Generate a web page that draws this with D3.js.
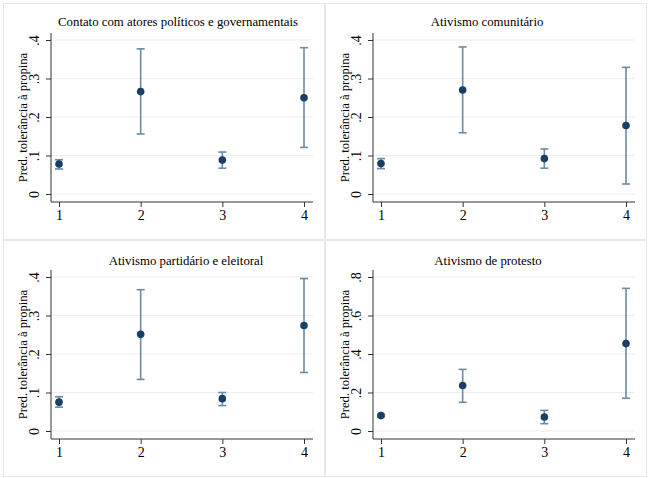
<!DOCTYPE html>
<html>
<head>
<meta charset="utf-8">
<script src="https://cdn.jsdelivr.net/npm/d3@7"></script>
<style>
  body { margin: 0; background: #fff; }
  text { font-family: "Liberation Serif", "DejaVu Serif", serif; fill: #000; }
</style>
</head>
<body>
<svg id="chart" width="650" height="478"></svg>
<script>
const categories = [1, 2, 3, 4]

const titles = [
  'Contato com atores políticos e governamentais',
  'Ativismo comunitário',
  'Ativismo partidário e eleitoral',
  'Ativismo de protesto'
]

const yLabel = 'Pred. tolerância à propina'

const estContato = [0.078, 0.266, 0.088, 0.250]
const lowContato = [0.065, 0.156, 0.067, 0.121]
const highContato = [0.089, 0.377, 0.109, 0.380]

const estComunitario = [0.079, 0.270, 0.092, 0.178]
const lowComunitario = [0.066, 0.159, 0.067, 0.026]
const highComunitario = [0.092, 0.382, 0.117, 0.329]

const estPartidario = [0.075, 0.251, 0.084, 0.274]
const lowPartidario = [0.062, 0.134, 0.066, 0.152]
const highPartidario = [0.089, 0.367, 0.100, 0.396]

const estProtesto = [0.080, 0.236, 0.073, 0.454]
const lowProtesto = [0.074, 0.149, 0.038, 0.170]
const highProtesto = [0.086, 0.320, 0.107, 0.741]

const ticksSmall = [0, 0.1, 0.2, 0.3, 0.4]
const ticksLarge = [0, 0.2, 0.4, 0.6, 0.8]

const panels = [
  { est: estContato, low: lowContato, high: highContato, ticks: ticksSmall },
  { est: estComunitario, low: lowComunitario, high: highComunitario, ticks: ticksSmall },
  { est: estPartidario, low: lowPartidario, high: highPartidario, ticks: ticksSmall },
  { est: estProtesto, low: lowProtesto, high: highProtesto, ticks: ticksLarge }
]

const PANEL = { w: 322, h: 237 }
const ORIGINS = [[3, 3], [325, 3], [3, 240], [325, 240]]
const TITLE_POS = [[175, 23], [162, 23], [183, 25], [163, 25]]
const PLOT = { left: 48, right: 310, top: 30, bottom: 199 }

const fmt = (v) => (v === 0 ? '0' : d3.format('.1f')(v).replace(/^0/, ''))

const svg = d3.select('#chart')

panels.forEach((p, i) => {
  const [ox, oy] = ORIGINS[i]
  const g = svg.append('g').attr('transform', 'translate(' + ox + ',' + oy + ')')

  g.append('rect')
    .attr('x', 0.5)
    .attr('y', 0.5)
    .attr('width', PANEL.w - 1)
    .attr('height', PANEL.h - 1)
    .attr('fill', '#fff')
    .attr('stroke', '#e8e8e8')

  const scaleX = d3.scaleLinear().domain([1, 4]).range([56, 301])
  const maxY = d3.max(p.ticks)
  const scaleY = d3.scaleLinear().domain([0, maxY]).range([191, 37])

  // gridlines
  g.selectAll('line.grid')
    .data(p.ticks)
    .enter()
    .append('line')
    .attr('class', 'grid')
    .attr('x1', PLOT.left)
    .attr('x2', PLOT.right)
    .attr('y1', (d) => scaleY(d))
    .attr('y2', (d) => scaleY(d))
    .attr('stroke', '#ededed')
    .attr('stroke-width', 1)

  // y axis
  const axisY = g.append('g')
    .attr('transform', 'translate(' + PLOT.left + ',0)')
    .call(d3.axisLeft(scaleY).tickValues(p.ticks).tickFormat(fmt).tickSize(5).tickSizeOuter(0))
  axisY.select('.domain').attr('d', 'M0,' + PLOT.top + 'V' + PLOT.bottom).attr('stroke', '#333')
  axisY.selectAll('.tick line').attr('stroke', '#333')
  axisY.selectAll('.tick text')
    .attr('x', null)
    .attr('dy', null)
    .attr('transform', 'translate(-12,0) rotate(-90)')
    .attr('text-anchor', 'middle')
    .style('font-size', '14px')
    .style('font-family', '"Liberation Serif", serif')

  // x axis
  const axisX = g.append('g')
    .attr('transform', 'translate(0,' + PLOT.bottom + ')')
    .call(d3.axisBottom(scaleX).tickValues(categories).tickFormat(d3.format('d')).tickSize(5).tickSizeOuter(0))
  axisX.select('.domain').attr('d', 'M' + PLOT.left + ',0H' + PLOT.right).attr('stroke', '#333')
  axisX.selectAll('.tick line').attr('stroke', '#333')
  axisX.selectAll('.tick text')
    .attr('y', 8)
    .style('font-size', '14px')
    .style('font-family', '"Liberation Serif", serif')

  // title
  g.append('text')
    .attr('x', TITLE_POS[i][0])
    .attr('y', TITLE_POS[i][1])
    .attr('text-anchor', 'middle')
    .style('font-size', '12.8px')
    .text(titles[i])

  // y axis title
  g.append('text')
    .attr('transform', 'translate(24,' + (PLOT.top + PLOT.bottom) / 2 + ') rotate(-90)')
    .attr('text-anchor', 'middle')
    .style('font-size', '12.6px')
    .text(yLabel)

  const rows = categories.map((c, j) => ({ c: c, est: p.est[j], low: p.low[j], high: p.high[j] }))

  // confidence intervals
  const ci = g.selectAll('g.ci').data(rows).enter().append('g').attr('class', 'ci')
    .attr('stroke', '#6c8aa3')
    .attr('stroke-width', 1.6)
  ci.append('line')
    .attr('x1', (d) => scaleX(d.c))
    .attr('x2', (d) => scaleX(d.c))
    .attr('y1', (d) => scaleY(d.low))
    .attr('y2', (d) => scaleY(d.high))
  ci.append('line')
    .attr('x1', (d) => scaleX(d.c) - 4)
    .attr('x2', (d) => scaleX(d.c) + 4)
    .attr('y1', (d) => scaleY(d.low))
    .attr('y2', (d) => scaleY(d.low))
  ci.append('line')
    .attr('x1', (d) => scaleX(d.c) - 4)
    .attr('x2', (d) => scaleX(d.c) + 4)
    .attr('y1', (d) => scaleY(d.high))
    .attr('y2', (d) => scaleY(d.high))

  // point estimates
  g.selectAll('circle.pt')
    .data(rows)
    .enter()
    .append('circle')
    .attr('class', 'pt')
    .attr('cx', (d) => scaleX(d.c))
    .attr('cy', (d) => scaleY(d.est))
    .attr('r', 3.8)
    .attr('fill', '#1a3f66')
})
</script>
</body>
</html>
